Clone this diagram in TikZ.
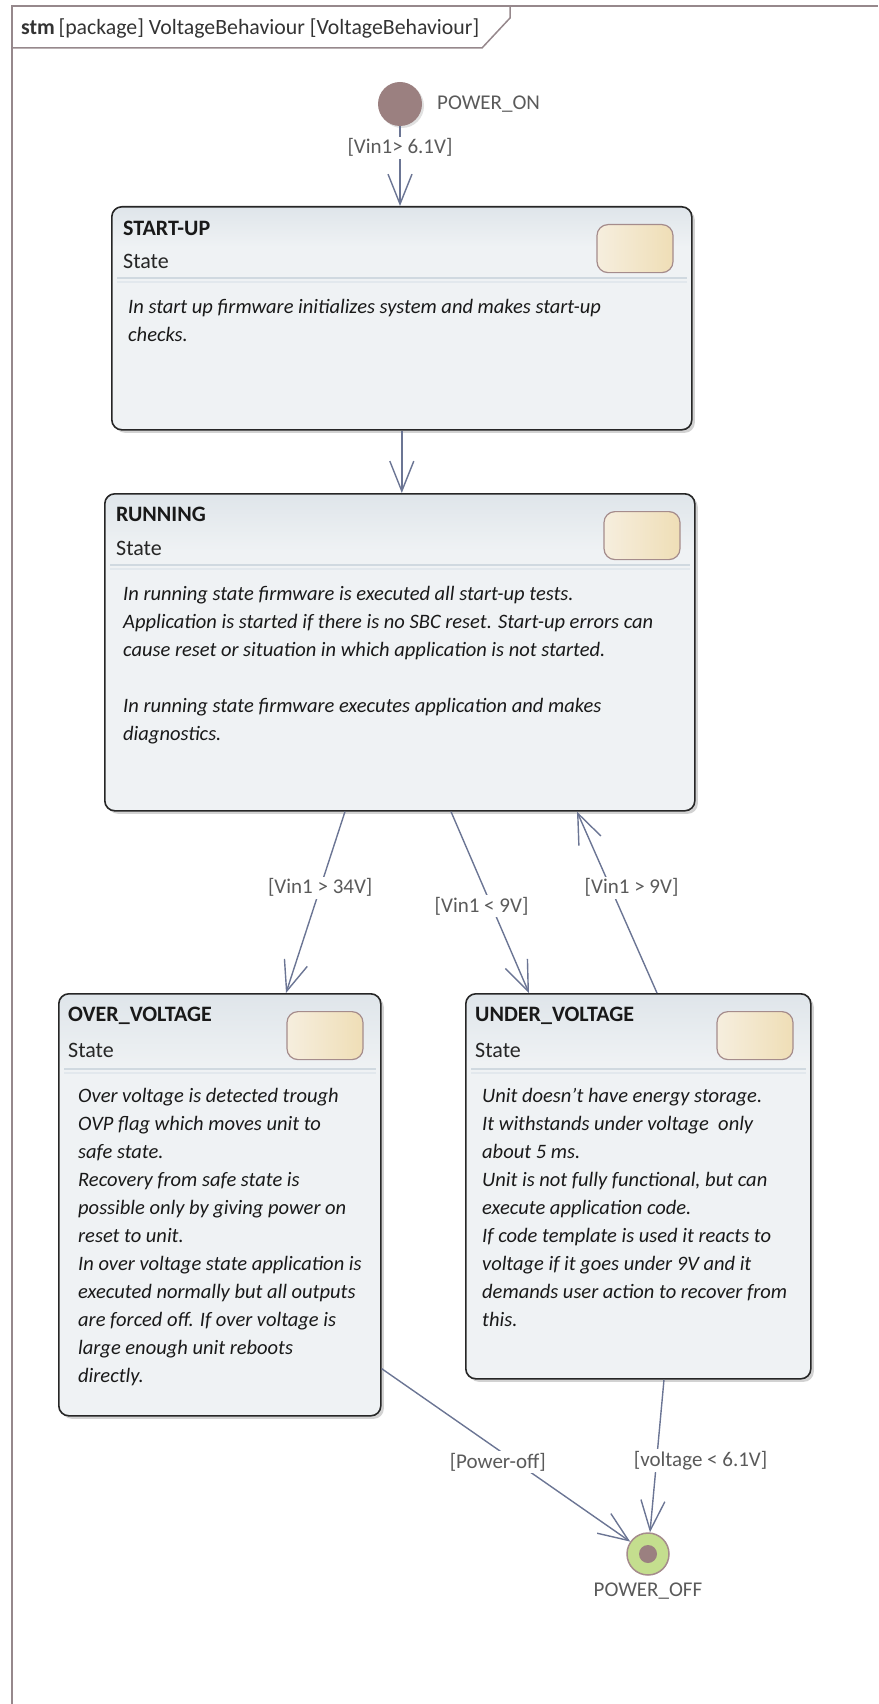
\documentclass[tikz,border=0pt]{standalone}
\usepackage{fontspec}
\setmainfont{Carlito}
\usepackage{tikz}
\usetikzlibrary{arrows.meta, shadows}
\definecolor{boxfill}{RGB}{239, 242, 244}
\definecolor{boxtop}{RGB}{223, 229, 234}
\definecolor{boxline}{RGB}{38, 38, 38}
\definecolor{iconleft}{RGB}{246, 238, 222}
\definecolor{iconright}{RGB}{239, 222, 182}
\definecolor{iconline}{RGB}{165, 140, 140}
\definecolor{sepdark}{RGB}{208, 217, 224}
\definecolor{seplight}{RGB}{226, 232, 237}
\definecolor{transcol}{RGB}{107, 117, 148}
\definecolor{guardtext}{RGB}{90, 90, 90}
\definecolor{pseudo}{RGB}{155, 128, 128}
\definecolor{finalring}{RGB}{196, 222, 142}
\definecolor{framecol}{RGB}{150, 136, 140}
\pgfdeclareverticalshading{stshade}{100bp}{color(0bp)=(boxfill); color(66bp)=(boxfill); color(75bp)=(boxtop); color(100bp)=(boxtop)}

\tikzset{
	stbox/.style={draw=boxline, line width=1.6pt, shade, shading=stshade, rounded corners=10pt,
		anchor=north west, inner sep=0pt,
		drop shadow={shadow xshift=3pt, shadow yshift=-3pt, fill=black!35, opacity=0.5}},
	sticon/.style={draw=iconline, line width=1.2pt, left color=iconleft, right color=iconright,
		rounded corners=11pt, minimum width=76pt, minimum height=48pt, inner sep=0pt, anchor=north east},
	sttitle/.style={font=\fontsize{22}{26}\selectfont\bfseries, text=black!90, inner sep=0pt, anchor=west},
	stsub/.style={font=\fontsize{22}{26}\selectfont, text=black!85, inner sep=0pt, anchor=west},
	stdesc/.style={font=\fontsize{20.5}{28}\selectfont\itshape, text=black!90, align=left, inner sep=0pt, anchor=north west},
	sepline/.style={draw=sepdark, line width=1.2pt},
	trans/.style={draw=transcol, line width=1.4pt, -{Straight Barb[length=30pt, width=24pt]}},
	guard/.style={font=\fontsize{21}{24}\selectfont, text=guardtext, fill=white, inner sep=2pt},
	pseudolbl/.style={font=\fontsize{21}{24}\selectfont, text=guardtext, inner sep=0pt},
	initnode/.style={circle, fill=pseudo, minimum size=44pt, inner sep=0pt,
		drop shadow={shadow xshift=2pt, shadow yshift=-2pt, fill=black!30, opacity=0.4}},
	finalnode/.style={circle, fill=finalring, draw=iconline, line width=1.5pt, minimum size=42pt, inner sep=0pt,
		path picture={\fill[pseudo] (path picture bounding box.center) circle (9pt);}}
}

\begin{document}
\begin{tikzpicture}[x=1pt, y=-1pt]
	\useasboundingbox (0,0) rectangle (878,1704);

	% diagram frame and its name tab
	\draw[draw=framecol, line width=2pt] (12,1704) -- (12,6.5) -- (878,6.5);
	\draw[draw=framecol, line width=1.5pt] (12,48) -- (482,48) -- (510,18) -- (510,6.5);
	\node[font=\fontsize{21.8}{26}\selectfont, text=black!80, inner sep=0pt, anchor=west] (frame title) at (21,28)
		{\textbf{stm}\,[package] VoltageBehaviour [VoltageBehaviour]};

	% pseudo states
	\node[initnode] (on) at (400,104) {};
	\node[pseudolbl, anchor=west] (on label) at (437,104) {POWER\_ON};
	\node[finalnode] (off) at (648,1554) {};
	\node[pseudolbl] (off label) at (648,1591) {POWER\_OFF};

	% states
	\node[stbox, minimum width=580pt, minimum height=223pt] (startup) at (111,206) {};
	\node[stbox, minimum width=590pt, minimum height=317pt] (running) at (104,493) {};
	\node[stbox, minimum width=322pt, minimum height=422pt] (over) at (58,993) {};
	\node[stbox, minimum width=345pt, minimum height=385pt] (under) at (465,993) {};

	% START-UP
	\node[sttitle] (startup title) at ([xshift=12pt, yshift=-22pt]startup.north west) {START-UP};
	\node[stsub] (startup sub) at ([xshift=12pt, yshift=-55pt]startup.north west) {State};
	\node[sticon] (startup icon) at ([xshift=-19pt, yshift=-18pt]startup.north east) {};
	\draw[sepline] ([xshift=6pt, yshift=-72pt]startup.north west) -- ([xshift=-6pt, yshift=-72pt]startup.north east);
	\draw[sepline, draw=seplight] ([xshift=6pt, yshift=-76pt]startup.north west) -- ([xshift=-6pt, yshift=-76pt]startup.north east);
	\node[stdesc] (startup desc) at ([xshift=17pt, yshift=-93pt]startup.north west)
		{In start up firmware initializes system and makes start-up\\checks.};

	% RUNNING
	\node[sttitle] (running title) at ([xshift=12pt, yshift=-21pt]running.north west) {RUNNING};
	\node[stsub] (running sub) at ([xshift=12pt, yshift=-55pt]running.north west) {State};
	\node[sticon] (running icon) at ([xshift=-15pt, yshift=-18pt]running.north east) {};
	\draw[sepline] ([xshift=6pt, yshift=-72pt]running.north west) -- ([xshift=-6pt, yshift=-72pt]running.north east);
	\draw[sepline, draw=seplight] ([xshift=6pt, yshift=-76pt]running.north west) -- ([xshift=-6pt, yshift=-76pt]running.north east);
	\node[stdesc] (running desc) at ([xshift=19pt, yshift=-93pt]running.north west)
		{In running state firmware is executed all start-up tests.\\
		Application is started if there is no SBC reset. Start-up errors can\\
		cause reset or situation in which application is not started.\\[28pt]
		In running state firmware executes application and makes\\
		diagnostics.};

	% OVER_VOLTAGE
	\node[sttitle] (over title) at ([xshift=10pt, yshift=-23pt]over.north west) {OVER\_VOLTAGE};
	\node[stsub] (over sub) at ([xshift=10pt, yshift=-57pt]over.north west) {State};
	\node[sticon] (over icon) at ([xshift=-18pt, yshift=-18pt]over.north east) {};
	\draw[sepline] ([xshift=6pt, yshift=-76pt]over.north west) -- ([xshift=-6pt, yshift=-76pt]over.north east);
	\draw[sepline, draw=seplight] ([xshift=6pt, yshift=-80pt]over.north west) -- ([xshift=-6pt, yshift=-80pt]over.north east);
	\node[stdesc] (over desc) at ([xshift=20pt, yshift=-95pt]over.north west)
		{Over voltage is detected trough\\
		OVP flag which moves unit to\\
		safe state.\\
		Recovery from safe state is\\
		possible only by giving power on\\
		reset to unit.\\
		In over voltage state application is\\
		executed normally but all outputs\\
		are forced off. If over voltage is\\
		large enough unit reboots\\
		directly.};

	% UNDER_VOLTAGE
	\node[sttitle] (under title) at ([xshift=10pt, yshift=-23pt]under.north west) {UNDER\_VOLTAGE};
	\node[stsub] (under sub) at ([xshift=10pt, yshift=-57pt]under.north west) {State};
	\node[sticon] (under icon) at ([xshift=-18pt, yshift=-18pt]under.north east) {};
	\draw[sepline] ([xshift=6pt, yshift=-76pt]under.north west) -- ([xshift=-6pt, yshift=-76pt]under.north east);
	\draw[sepline, draw=seplight] ([xshift=6pt, yshift=-80pt]under.north west) -- ([xshift=-6pt, yshift=-80pt]under.north east);
	\node[stdesc] (under desc) at ([xshift=17pt, yshift=-95pt]under.north west)
		{Unit doesn't have energy storage.\\
		It withstands under voltage \ only\\
		about 5 ms.\\
		Unit is not fully functional, but can\\
		execute application code.\\
		If code template is used it reacts to\\
		voltage if it goes under 9V and it\\
		demands user action to recover from\\
		this.};

	% transitions
	\draw[trans] (on) -- node[guard, pos=0.27] (g on) {[Vin1> 6.1V]} (on |- startup.north);
	\draw[trans] (startup.south) -- (startup.south |- running.north);
	\draw[trans] ([xshift=241pt]running.south west) -- node[guard, pos=0.42] (g over) {[Vin1 > 34V]}
		([xshift=228pt]over.north west);
	\draw[trans] ([xshift=347pt]running.south west) -- node[guard, pos=0.52, xshift=-10pt] (g under) {[Vin1 < 9V]}
		([xshift=64pt]under.north west);
	\draw[trans] ([xshift=192pt]under.north west) -- node[guard, pos=0.58, xshift=21pt] (g back) {[Vin1 > 9V]}
		([xshift=473pt]running.south west);
	\draw[trans] ([yshift=48pt]over.south east) -- node[guard, pos=0.54, xshift=-18pt] (g poweroff) {[Power-off]} (off);
	\draw[trans] ([xshift=199pt]under.south west) -- node[guard, pos=0.53, xshift=44pt] (g low) {[voltage < 6.1V]} (off);

\end{tikzpicture}
\end{document}
